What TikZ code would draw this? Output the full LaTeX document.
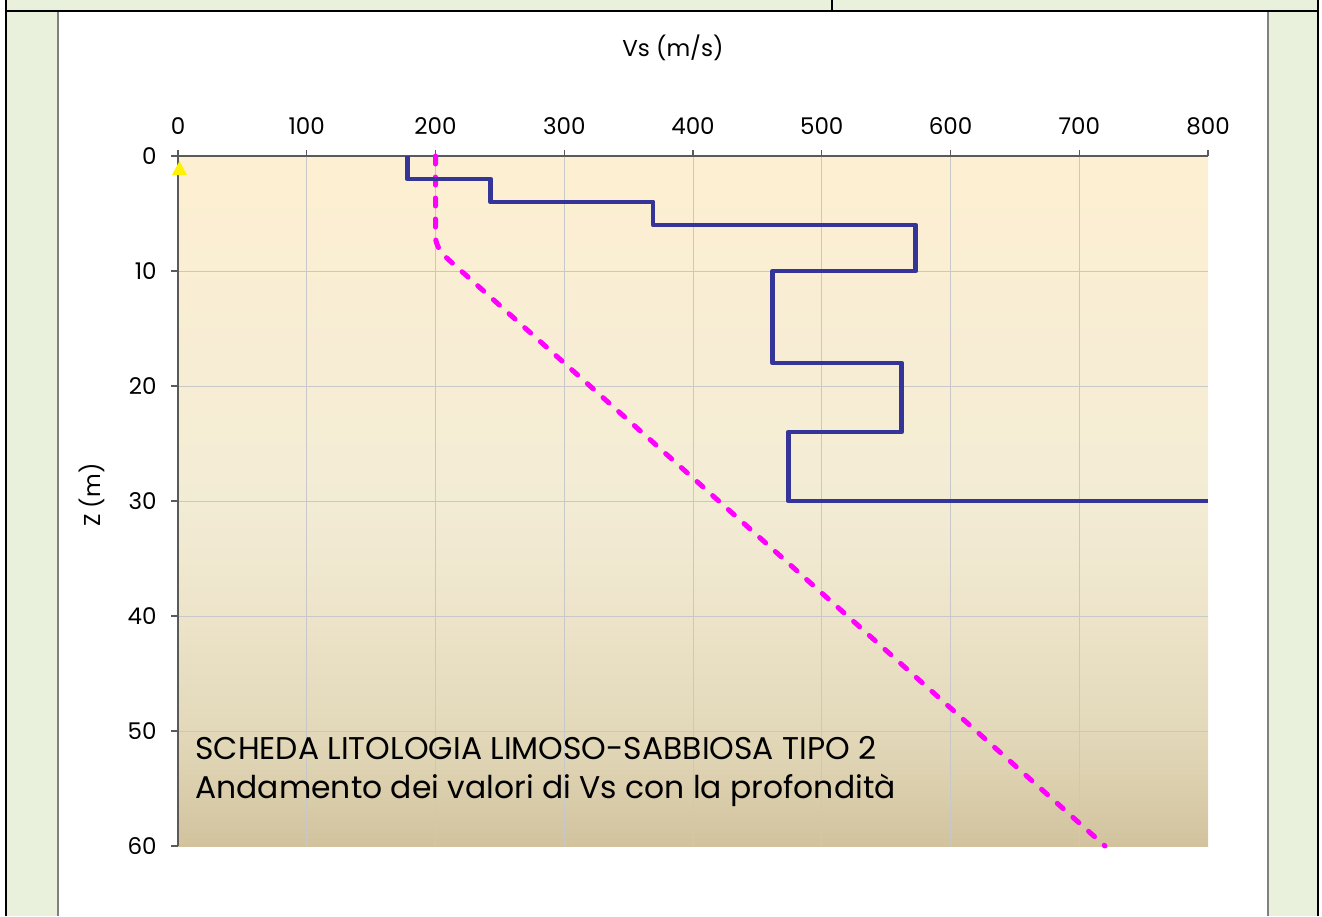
\documentclass[tikz,border=0pt]{standalone}
\usepackage{fontspec}
\setmainfont{Poppins}
\definecolor{panelgreen}{HTML}{E9F0DC}
\definecolor{profblue}{HTML}{353599}
\definecolor{trendpink}{HTML}{FF00FF}
\definecolor{gridgrey}{HTML}{C8C8C8}
\definecolor{axisgrey}{HTML}{5A5A5A}
\definecolor{soilTop}{HTML}{FDEFD2}
\definecolor{soilA}{HTML}{F3ECD5}
\definecolor{soilB}{HTML}{EDE4CA}
\definecolor{soilC}{HTML}{E2D8B9}
\definecolor{soilD}{HTML}{D2C39E}
\pgfdeclareverticalshading{soil}{100bp}{color(0bp)=(soilD); color(25bp)=(soilD); color(33bp)=(soilC); color(42bp)=(soilB); color(50bp)=(soilA); color(75bp)=(soilTop); color(100bp)=(soilTop)}
\tikzset{
	ticklabel/.style={inner sep=0pt, font=\fontsize{11.5}{14}\selectfont},
	frameline/.style={line width=1pt, black},
	vsprofile/.style={line width=2.4pt, profblue, line join=round},
	vstrend/.style={line width=2.5pt, trendpink, line cap=round, dash pattern=on 4pt off 6.5pt}
}
\begin{document}
\begin{tikzpicture}[x=0.5pt, y=-0.5pt]
	\useasboundingbox (0,0) rectangle (1322,916);
	\fill[panelgreen] (6,0) rectangle (1318,11);
	\fill[panelgreen] (6,11) rectangle (58,916);
	\fill[panelgreen] (1268,11) rectangle (1318,916);
	\draw[gray, line width=0.6pt] (58,11) -- (58,916);
	\draw[gray, line width=0.6pt] (1268,11) -- (1268,916);
	\draw[frameline] (6,0) -- (6,916);
	\draw[frameline] (1318,0) -- (1318,916);
	\draw[frameline] (6,11) -- (1318,11);
	\draw[frameline] (832,0) -- (832,11);
	\begin{scope}[shift={(178,156)}, x=0.64375pt, y=-5.75pt]
		\shade[shading=soil] (0,0) rectangle (800,60);
		\foreach \v in {100,200,...,700}
			\draw[gridgrey, line width=0.5pt] (\v,0) -- (\v,60);
		\foreach \z in {10,20,...,50}
			\draw[gridgrey, line width=0.5pt] (0,\z) -- (800,\z);
		\draw[axisgrey, line width=0.6pt] (-5.4,0) -- (800,0);
		\draw[axisgrey, line width=0.6pt] (0,-0.55) -- (0,60);
		\foreach \v in {0,100,...,800} {
			\draw[axisgrey, line width=0.6pt] (\v,0) -- (\v,-0.55);
			\node[ticklabel, anchor=base] (xl\v) at (\v,-1.91) {\v};
		}
		\foreach \z in {0,10,...,60} {
			\draw[axisgrey, line width=0.6pt] (0,\z) -- (-5.4,\z);
			\node[ticklabel, anchor=east] (zl\z) at (-16.3,\z) {\z};
		}
		\draw[vstrend] (200,0) -- (200,7) .. controls (200,7.8) and (205,8.5) .. (210,9) -- (720,60);
		\draw[vsprofile] (178,0) -- (178,2) -- (243,2) -- (243,4) -- (369,4) -- (369,6) -- (573,6) -- (573,10) -- (462,10) -- (462,18) -- (562,18) -- (562,24) -- (474,24) -- (474,30) -- (800,30);
		\node[inner sep=0pt, anchor=base west, align=left, font=\fontsize{15.7}{19.5}\selectfont] (title) at (13.2,55.9) {SCHEDA LITOLOGIA LIMOSO-SABBIOSA TIPO 2\\Andamento dei valori di Vs con la profondità};
	\end{scope}
	\fill[yellow] (172,175) -- (179.5,161) -- (187,175) -- cycle;
	\node[ticklabel] (vstitle) at (673,48) {Vs (m/s)};
	\node[ticklabel, rotate=90] (ztitle) at (92,495) {Z (m)};
\end{tikzpicture}
\end{document}
